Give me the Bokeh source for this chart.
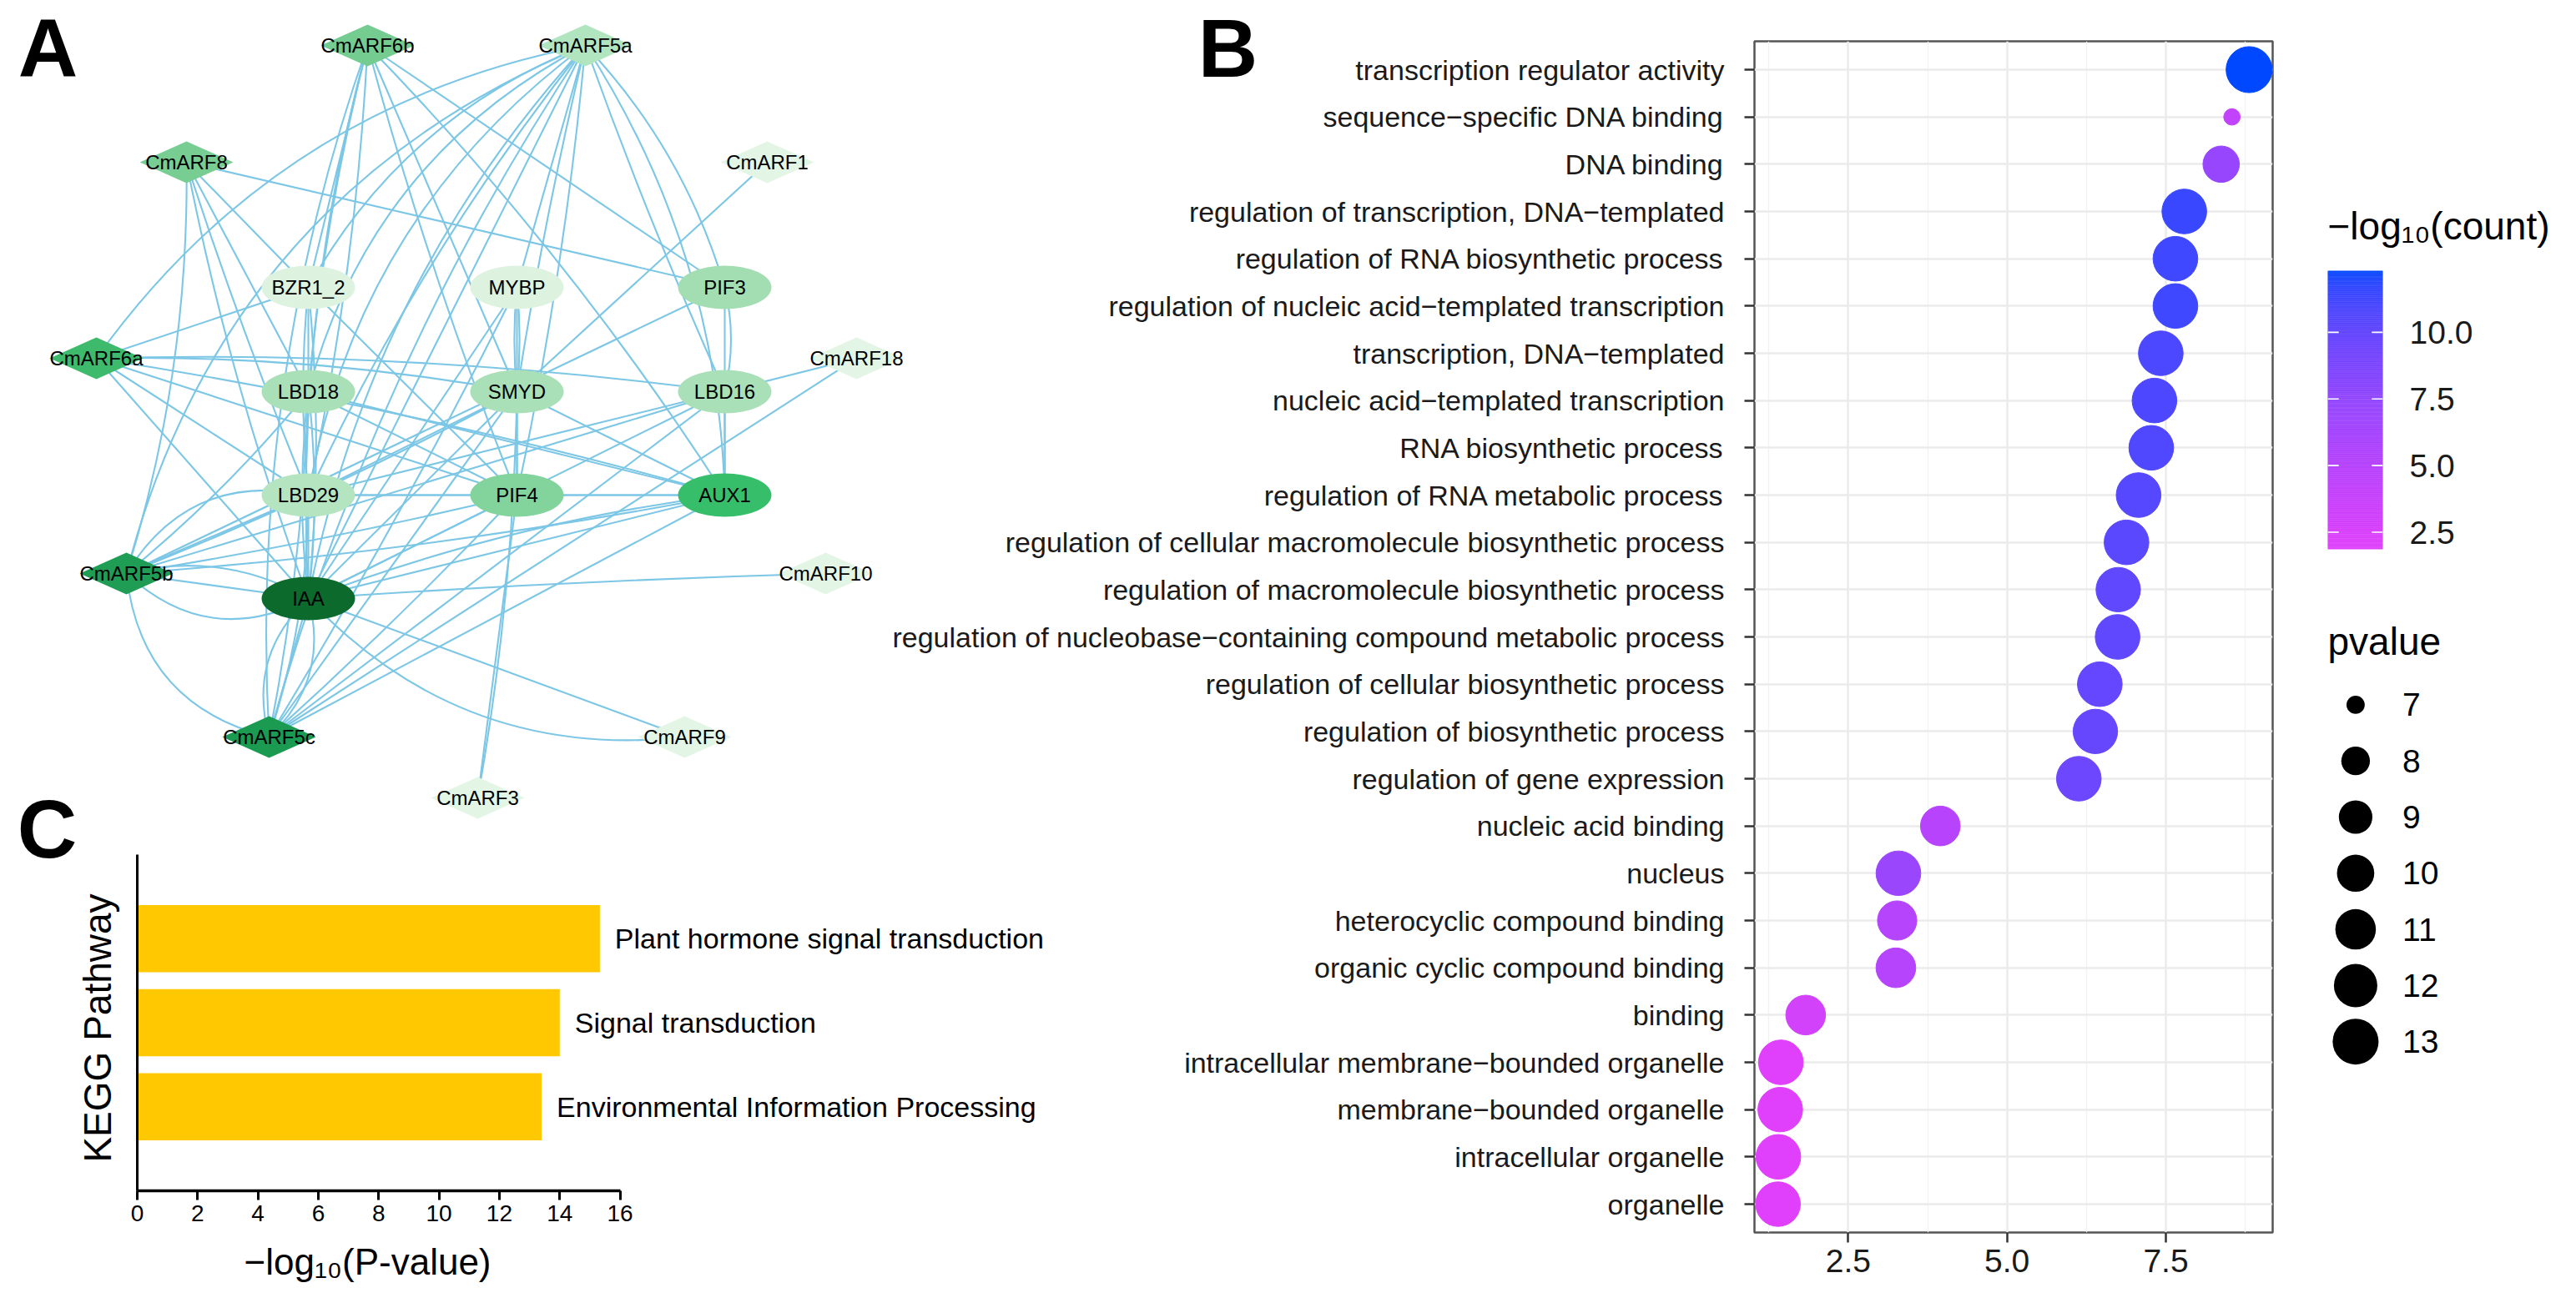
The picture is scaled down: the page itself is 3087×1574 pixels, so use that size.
import numpy as np
from bokeh.plotting import figure
from bokeh.models import (Range1d, FixedTicker, LinearAxis, LinearColorMapper,
                          GridBox, ColumnDataSource, PrintfTickFormatter)
from bokeh.transform import transform
from bokeh.embed import file_html
from bokeh.resources import INLINE
from bokeh.core.properties import value

W, H = 3071, 1558
OX, OY = 8, 8
FONT = "Liberation Sans"

# ---------------- Panel A: network ----------------
node_names = ["CmARF6b", "CmARF5a", "CmARF8", "CmARF1", "BZR1_2", "MYBP", "PIF3",
              "CmARF6a", "CmARF18", "LBD18", "SMYD", "LBD16", "LBD29", "PIF4", "AUX1",
              "CmARF5b", "CmARF10", "IAA", "CmARF5c", "CmARF9", "CmARF3"]
node_x = [448, 709, 231, 927, 377, 627, 876, 123, 1034, 377, 627, 876, 377, 627, 876,
          159, 997, 377, 330, 828, 580]
node_y = [62, 62, 202, 202, 352, 352, 352, 437, 437, 477, 477, 477, 601, 601, 601,
          695, 695, 725, 891, 891, 964]
node_color = ["#74CC91", "#B0E5BF", "#78CD93", "#E3F5E5", "#DDF2DF", "#DDF2DF", "#A3DEB2",
              "#3DBA6B", "#E3F5E5", "#A9E0B7", "#A9E0B7", "#A9E0B7", "#B5E5C0", "#82D39C",
              "#37BE6B", "#1F9D55", "#E3F5E5", "#0B6A2C", "#1B9A52", "#E3F5E5", "#E3F5E5"]

edge_from = ["CmARF5a"] * 15 + ["CmARF6b"] * 9 + ["CmARF8"] * 6 + [
    "CmARF1", "CmARF18", "CmARF18", "CmARF10", "CmARF9", "CmARF9", "CmARF3", "CmARF3"] + \
    ["CmARF6a"] * 7 + ["CmARF5b"] * 12 + ["CmARF5c"] * 10 + [
    "BZR1_2", "BZR1_2", "BZR1_2", "BZR1_2", "MYBP", "MYBP", "MYBP", "MYBP", "PIF3", "PIF3",
    "LBD18", "LBD18", "LBD18", "LBD18", "LBD29", "LBD29", "LBD29", "SMYD", "SMYD", "SMYD",
    "SMYD", "LBD16", "LBD16", "LBD16", "PIF4", "PIF4", "AUX1", "AUX1"]
edge_to = ["BZR1_2", "LBD18", "LBD29", "IAA", "CmARF5b", "CmARF6a", "CmARF5c", "MYBP", "SMYD",
           "PIF4", "LBD16", "PIF3", "AUX1", "LBD29", "IAA",
           "BZR1_2", "LBD18", "LBD29", "IAA", "SMYD", "PIF4", "PIF3", "CmARF5c", "AUX1",
           "PIF3", "BZR1_2", "LBD18", "LBD29", "IAA", "CmARF5b",
           "SMYD", "LBD16", "CmARF5c", "IAA", "IAA", "IAA", "PIF4", "SMYD",
           "BZR1_2", "SMYD", "PIF4", "AUX1", "LBD16", "IAA", "LBD29",
           "IAA", "IAA", "IAA", "LBD29", "LBD29", "LBD18", "SMYD", "PIF4", "AUX1", "LBD16",
           "CmARF5c", "PIF3",
           "IAA", "IAA", "IAA", "LBD29", "LBD18", "SMYD", "PIF4", "AUX1", "LBD16", "MYBP",
           "LBD18", "LBD29", "PIF4", "IAA", "SMYD", "SMYD", "PIF4", "IAA", "LBD16", "AUX1",
           "IAA", "IAA", "AUX1", "PIF4", "IAA", "AUX1", "PIF4", "PIF4", "AUX1", "IAA",
           "LBD29", "AUX1", "IAA", "LBD29", "IAA", "AUX1", "IAA", "IAA"]
edge_curv = [0.18, 0.22, 0.2, 0.14, 0.25, 0.2, 0.08, 0.0, 0.02, -0.03, 0.02, -0.12, -0.14, 0.06, 0.0,
             0.0, 0.04, -0.04, 0.08, 0.0, 0.03, 0.0, 0.1, -0.05,
             0.0, 0.0, 0.0, 0.02, 0.04, -0.08,
             0.0, 0.0, 0.0, 0.01, 0.0, -0.25, 0.0, 0.04,
             0.0, -0.05, 0.0, -0.03, -0.04, 0.0, 0.0,
             0.0, 0.35, -0.2, 0.0, -0.35, 0.05, 0.03, 0.02, 0.03, 0.0, 0.35, 0.0,
             0.0, 0.3, -0.3, 0.08, 0.04, 0.0, 0.02, 0.0, 0.0, 0.02,
             0.0, 0.05, 0.0, -0.05, 0.05, -0.05, 0.0, 0.0, -0.12, 0.0,
             0.06, -0.06, 0.0, 0.0, 0.0, 0.0, 0.0, 0.0, 0.0, 0.0,
             0.0, 0.0, 0.0, 0.0, 0.0, 0.0, 0.0, 0.06]

# ---------------- Panel B: GO dot plot ----------------
go_terms = ["transcription regulator activity", "sequence\u2212specific DNA binding", "DNA binding",
            "regulation of transcription, DNA\u2212templated", "regulation of RNA biosynthetic process",
            "regulation of nucleic acid\u2212templated transcription", "transcription, DNA\u2212templated",
            "nucleic acid\u2212templated transcription", "RNA biosynthetic process",
            "regulation of RNA metabolic process",
            "regulation of cellular macromolecule biosynthetic process",
            "regulation of macromolecule biosynthetic process",
            "regulation of nucleobase\u2212containing compound metabolic process",
            "regulation of cellular biosynthetic process", "regulation of biosynthetic process",
            "regulation of gene expression", "nucleic acid binding", "nucleus",
            "heterocyclic compound binding", "organic cyclic compound binding", "binding",
            "intracellular membrane\u2212bounded organelle", "membrane\u2212bounded organelle",
            "intracellular organelle", "organelle"]
go_x = [8.81, 8.54, 8.37, 7.79, 7.65, 7.65, 7.42, 7.32, 7.27, 7.07, 6.88, 6.75, 6.74,
        6.46, 6.39, 6.13, 3.95, 3.29, 3.27, 3.25, 1.83, 1.44, 1.43, 1.40, 1.395]
go_count = [12.31, 4.2, 7.2, 11.5, 11.3, 11.3, 11.0, 10.9, 10.8, 10.6, 10.4, 10.2, 10.2,
            10.0, 9.9, 9.6, 5.0, 7.0, 5.2, 5.2, 3.0, 1.9, 1.9, 1.86, 1.86]
go_pvalue = [13.05, 6.98, 9.72, 12.5, 12.5, 12.5, 12.5, 12.5, 12.5, 12.5, 12.5, 12.4, 12.5,
             12.5, 12.4, 12.5, 10.72, 12.5, 10.6, 10.72, 10.72, 12.5, 12.5, 12.5, 12.5]
x_breaks = [2.5, 5.0, 7.5]
x_minor = [1.25, 3.75, 6.25, 8.75]
color_breaks = [2.5, 5.0, 7.5, 10.0]
size_breaks = [7, 8, 9, 10, 11, 12, 13]
color_low, color_high = "#E040FB", "#0048FF"

# ---------------- Panel C: KEGG bars ----------------
kegg_terms = ["Plant hormone signal transduction", "Signal transduction",
              "Environmental Information Processing"]
kegg_vals = [15.33, 14.0, 13.4]
kegg_ticks = [0, 2, 4, 6, 8, 10, 12, 14, 16]


# ---------------- helpers ----------------
def _s2l(c):
    c = np.asarray(c, float) / 255.0
    return np.where(c <= 0.04045, c / 12.92, ((c + 0.055) / 1.055) ** 2.4)


def _l2s(c):
    c = np.clip(c, 0, 1)
    return np.where(c <= 0.0031308, 12.92 * c, 1.055 * c ** (1 / 2.4) - 0.055) * 255


_M = np.array([[0.4124564, 0.3575761, 0.1804375], [0.2126729, 0.7151522, 0.0721750],
               [0.0193339, 0.1191920, 0.9503041]])
_Mi = np.linalg.inv(_M)
_WP = np.array([0.95047, 1.0, 1.08883])


def hex2rgb(h):
    h = h.lstrip("#")
    return [int(h[i:i + 2], 16) for i in (0, 2, 4)]


def rgb2lab(rgb):
    xyz = _M @ _s2l(rgb) / _WP
    d = 6 / 29
    f = np.where(xyz > d ** 3, np.cbrt(xyz), xyz / (3 * d * d) + 4 / 29)
    return np.array([116 * f[1] - 16, 500 * (f[0] - f[1]), 200 * (f[1] - f[2])])


def lab2hex(lab):
    L, a, b = lab
    fy = (L + 16) / 116
    f = np.array([fy + a / 500, fy, fy - b / 200])
    d = 6 / 29
    xyz = np.where(f > d, f ** 3, 3 * d * d * (f - 4 / 29)) * _WP
    r, g, bb = np.round(_l2s(_Mi @ xyz)).astype(int)
    return "#%02x%02x%02x" % (r, g, bb)


lab_lo, lab_hi = rgb2lab(hex2rgb(color_low)), rgb2lab(hex2rgb(color_high))
palette = [lab2hex(lab_lo + (lab_hi - lab_lo) * t) for t in np.linspace(0, 1, 256)]
cmin, cmax = min(go_count), max(go_count)
mapper = LinearColorMapper(palette=palette, low=cmin, high=cmax)

pmin, pmax = min(go_pvalue), max(go_pvalue)


def dot_size(v):
    v = np.asarray(v, float)
    return 19.8 + 35.4 * np.sqrt(np.clip((v - pmin) / (pmax - pmin), 0, 1))


def make_fig(xr, yr, left, right, top, bottom, **kw):
    p = figure(width=W, height=H, x_range=xr, y_range=yr, output_backend="svg",
               toolbar_location=None, title_location=None, frame_align=False,
               min_border_left=left, min_border_right=right,
               min_border_top=top, min_border_bottom=bottom, **kw)
    p.border_fill_color = None
    p.background_fill_color = None
    p.outline_line_color = None
    return p


# ---------------- base figure (network + free texts) ----------------
base = make_fig(Range1d(OX, OX + W), Range1d(OY + H, OY), 0, 0, 0, 0,
                x_axis_type=None, y_axis_type=None)
base.border_fill_color = "white"
base.background_fill_color = "white"

pos = {n: (x, y) for n, x, y in zip(node_names, node_x, node_y)}
ex0, ey0, ex1, ey1, ecx, ecy = [], [], [], [], [], []
for a, b, c in zip(edge_from, edge_to, edge_curv):
    x0, y0 = pos[a]
    x1, y1 = pos[b]
    mx, my = (x0 + x1) / 2, (y0 + y1) / 2
    dx, dy = x1 - x0, y1 - y0
    ex0.append(x0); ey0.append(y0); ex1.append(x1); ey1.append(y1)
    ecx.append(mx - dy * c); ecy.append(my + dx * c)
base.quadratic(x0=ex0, y0=ey0, x1=ex1, y1=ey1, cx=ecx, cy=ecy,
               line_color="#7CC6E6", line_width=2.1)

is_diamond = [n.startswith("CmARF") for n in node_names]
dw, dh = 112, 50
dxs = [[x - dw / 2, x, x + dw / 2, x] for x, d in zip(node_x, is_diamond) if d]
dys = [[y, y - dh / 2, y, y + dh / 2] for y, d in zip(node_y, is_diamond) if d]
dcol = [c for c, d in zip(node_color, is_diamond) if d]
base.patches(xs=dxs, ys=dys, fill_color=dcol, line_color=None)
ell = [i for i, d in enumerate(is_diamond) if not d]
base.ellipse(x=[node_x[i] for i in ell], y=[node_y[i] for i in ell], width=112, height=52,
             fill_color=[node_color[i] for i in ell], line_color=None)
base.text(x=node_x, y=node_y, text=node_names, text_align="center", text_baseline="middle",
          text_font=value(FONT), text_font_size="24px", text_color="black")

# panel letters
base.text(x=[65, 1479, 64], y=[64, 65, 1001], text=["A", "B", "C"], text_align="center",
          text_baseline="middle", text_font=value(FONT), text_font_style="bold",
          text_font_size="99px", text_color="black")

# C axis titles
base.text(x=[124], y=[1240], text=["KEGG Pathway"], angle=np.pi / 2, text_align="center",
          text_baseline="middle", text_font=value(FONT), text_font_size="46px", text_color="black")
base.text(x=[448], y=[1520], text=["\u2212log\u2081\u2080(P-value)"], text_align="center",
          text_baseline="middle", text_font=value(FONT), text_font_size="44px", text_color="black")

# legend titles
base.text(x=[2797, 2797], y=[278, 776], text=["\u2212log\u2081\u2080(count)", "pvalue"],
          text_align="left", text_baseline="middle", text_font=value(FONT),
          text_font_size="46px", text_color="black")
# size legend
ly = [852.4 + 67.3 * i for i in range(len(size_breaks))]
base.scatter(x=[2830.4] * len(size_breaks), y=ly, size=dot_size(size_breaks),
             fill_color="black", line_color=None)
base.text(x=[2886.6] * len(size_breaks), y=ly, text=[str(s) for s in size_breaks],
          text_align="left", text_baseline="middle", text_font=value(FONT),
          text_font_size="39px", text_color="black")

# ---------------- Panel C figure ----------------
c_left, c_top, c_bottom_px, c_right_px = 171.6, 1032, 1434.6, 1300
px_per_unit = (750.4 - 171.6) / 16
c_xend = (c_right_px - c_left) / px_per_unit
pc = make_fig(Range1d(0, c_xend), Range1d(0, len(kegg_terms) + 1),
              int(round(c_left - OX)), int(round(W - (c_right_px - OX))),
              int(round(c_top - OY)), int(round(H - (c_bottom_px - OY))))
kegg_y = [len(kegg_terms) - i for i in range(len(kegg_terms))]
pc.hbar(y=kegg_y, left=0, right=kegg_vals, height=0.8, fill_color="#FFC800", line_color=None)
pc.text(x=kegg_vals, y=kegg_y, text=kegg_terms, x_offset=18, text_align="left",
        text_baseline="middle", text_font=value(FONT), text_font_size="34px", text_color="black")
pc.grid.visible = False
pc.xaxis.ticker = FixedTicker(ticks=kegg_ticks)
pc.xaxis.bounds = (0, 16)
pc.xaxis.axis_line_width = 3.5
pc.xaxis.axis_line_color = "black"
pc.xaxis.major_tick_out = 11
pc.xaxis.major_tick_in = 0
pc.xaxis.major_tick_line_width = 3
pc.xaxis.minor_tick_line_color = None
pc.xaxis.major_label_text_font = FONT
pc.xaxis.major_label_text_font_size = "28px"
pc.xaxis.major_label_text_color = "black"
pc.xaxis.major_label_standoff = 6
pc.yaxis.ticker = FixedTicker(ticks=[])
pc.yaxis.axis_line_width = 3
pc.yaxis.axis_line_color = "black"
pc.yaxis.minor_tick_line_color = None

# ---------------- Panel B figure ----------------
span = max(go_x) - min(go_x)
b_xr = Range1d(min(go_x) - 0.05 * span, max(go_x) + 0.05 * span)
n = len(go_terms)
go_y = [n - i for i in range(n)]
pb = make_fig(b_xr, Range1d(0.4, n + 0.6),
              int(round(2109.5 - OX)), int(round(W - (2731 - OX))),
              int(round(57 - OY)), int(round(H - (1485 - OY))))
pb.outline_line_color = "#555555"
pb.outline_line_width = 2.5
src = ColumnDataSource(dict(x=go_x, y=go_y, c=go_count, s=dot_size(go_pvalue)))
pb.scatter(x="x", y="y", size="s", source=src, fill_color=transform("c", mapper),
           line_color=transform("c", mapper), line_width=1)
pb.xaxis.ticker = FixedTicker(ticks=x_breaks, minor_ticks=x_minor)
pb.xaxis.major_label_overrides = {2.5: "2.5", 5: "5.0", 7.5: "7.5"}
pb.yaxis.ticker = FixedTicker(ticks=go_y)
pb.yaxis.major_label_overrides = {y: t for y, t in zip(go_y, go_terms)}
pb.xgrid.grid_line_color = "#EBEBEB"
pb.xgrid.grid_line_width = 2.5
pb.xgrid.minor_grid_line_color = "#F2F2F2"
pb.xgrid.minor_grid_line_width = 1.3
pb.ygrid.grid_line_color = "#EBEBEB"
pb.ygrid.grid_line_width = 2.5
for ax in (pb.xaxis, pb.yaxis):
    ax.axis_line_color = None
    ax.major_tick_out = 12
    ax.major_tick_in = 0
    ax.major_tick_line_color = "#333333"
    ax.major_tick_line_width = 2.5
    ax.minor_tick_line_color = None
    ax.major_label_text_font = FONT
    ax.major_label_text_color = "#1a1a1a"
pb.yaxis.major_label_text_font_size = "34px"
pb.yaxis.major_label_standoff = 24
pb.xaxis.major_label_text_font_size = "39px"
pb.xaxis.major_label_standoff = 8

# ---------------- colour bar figure ----------------
pcb = make_fig(Range1d(0, 1), Range1d(cmin, cmax),
               int(round(2797 - OX)), int(round(W - (2863 - OX))),
               int(round(331.6 - OY)), int(round(H - (665.8 - OY))),
               x_axis_type=None, y_axis_type=None)
cb_edges = np.linspace(cmin, cmax, 201)
cb_src = ColumnDataSource(dict(b=cb_edges[:-1], t=cb_edges[1:],
                               m=(cb_edges[:-1] + cb_edges[1:]) / 2))
pcb.quad(left=0, right=1, bottom="b", top="t", source=cb_src,
         fill_color=transform("m", mapper), line_color=transform("m", mapper), line_width=0.6)
pcb.segment(x0=[0] * 4 + [0.8] * 4, x1=[0.2] * 4 + [1.0] * 4, y0=color_breaks * 2,
            y1=color_breaks * 2, line_color="white", line_width=1.6)
rax = LinearAxis(ticker=FixedTicker(ticks=color_breaks), formatter=PrintfTickFormatter(format="%.1f"),
                 axis_line_color=None, major_tick_line_color=None, minor_tick_line_color=None,
                 major_label_standoff=26, major_label_text_font=FONT,
                 major_label_text_font_size="39px", major_label_text_color="#1a1a1a")
pcb.add_layout(rax, "right")

layout = GridBox(children=[(base, 0, 0), (pc, 0, 0), (pb, 0, 0), (pcb, 0, 0)])
open("out.html", "w").write(file_html(layout, INLINE))
